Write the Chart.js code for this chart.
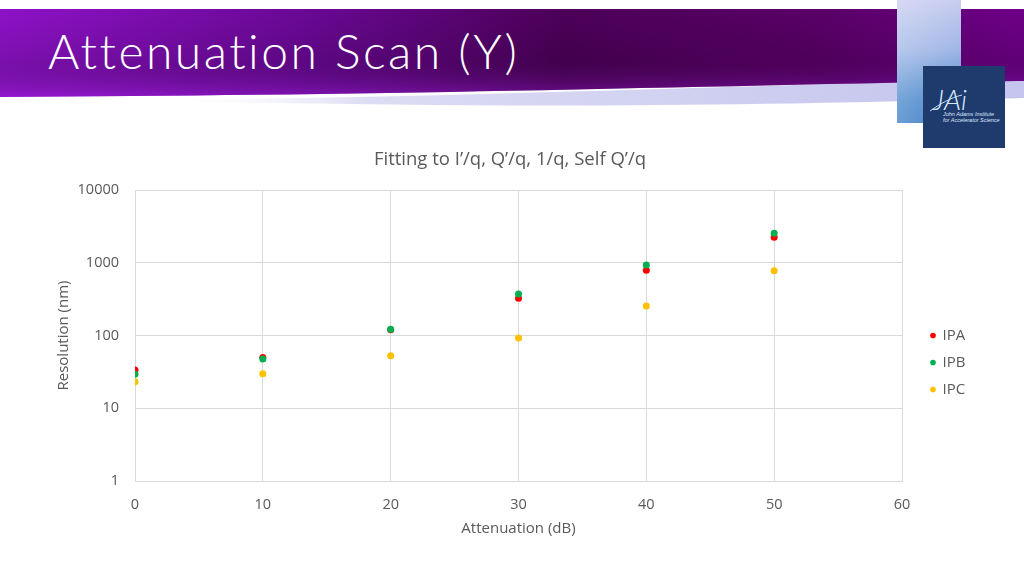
<!DOCTYPE html>
<html>
<head>
<meta charset="utf-8">
<script src="https://cdn.jsdelivr.net/npm/chart.js@4.4.0/dist/chart.umd.min.js"></script>
<style>
  html, body { margin: 0; padding: 0; background: #ffffff; }
  body { width: 1024px; height: 576px; position: relative; overflow: hidden; font-family: "Open Sans", sans-serif; }
  #deco { position: absolute; left: 0; top: 0; }
  #slideTitle { position: absolute; left: 48px; top: 21px; color: #ffffff; font-family: Lato, "Open Sans", sans-serif; font-weight: 300; font-size: 48px; letter-spacing: 2.5px; line-height: 60px; white-space: nowrap; }
  #logoText { position: absolute; left: 923px; top: 66px; width: 82px; height: 82px; color: #ffffff; }
  #logoJ { position: absolute; left: 10px; top: 19px; font-family: Lato, sans-serif; font-weight: 300; font-style: italic; font-size: 28px; line-height: 28px; color: #d6eaff; }
  #logoSmall { position: absolute; left: 20px; top: 45px; font-family: "Liberation Sans Narrow", "Liberation Sans", sans-serif; font-style: italic; font-size: 5.5px; line-height: 6px; color: #dfe8ff; white-space: nowrap; }
  #chartBox { position: absolute; left: 40px; top: 140px; width: 940px; height: 405px; }
</style>
</head>
<body>
<svg id="deco" width="1024" height="576" xmlns="http://www.w3.org/2000/svg">
  <defs>
    <linearGradient id="lav" x1="0" y1="0" x2="1" y2="0">
      <stop offset="0" stop-color="#ffffff" stop-opacity="0"/>
      <stop offset="0.25" stop-color="#dcdcf4"/>
      <stop offset="1" stop-color="#c4c4ee"/>
    </linearGradient>
    <linearGradient id="purpH" x1="0" y1="0" x2="1" y2="0">
      <stop offset="0" stop-color="#8e12c8"/>
      <stop offset="0.3" stop-color="#6a0896"/>
      <stop offset="0.55" stop-color="#4c0058"/>
      <stop offset="0.8" stop-color="#5a0068"/>
      <stop offset="1" stop-color="#6e0088"/>
    </linearGradient>
    <linearGradient id="purpV" x1="0" y1="0" x2="0" y2="1">
      <stop offset="0" stop-color="#000000" stop-opacity="0"/>
      <stop offset="0.55" stop-color="#000000" stop-opacity="0.12"/>
      <stop offset="1" stop-color="#9a20d8" stop-opacity="0.45"/>
    </linearGradient>
    <linearGradient id="blueRect" x1="0" y1="0" x2="0" y2="1">
      <stop offset="0" stop-color="#c8ccf0"/>
      <stop offset="0.4" stop-color="#a0b6e6"/>
      <stop offset="0.8" stop-color="#4a88cc"/>
      <stop offset="1" stop-color="#3a7cc4"/>
    </linearGradient>
    <linearGradient id="blueRectH" x1="0" y1="0" x2="1" y2="0">
      <stop offset="0" stop-color="#ffffff" stop-opacity="0.25"/>
      <stop offset="1" stop-color="#ffffff" stop-opacity="0"/>
    </linearGradient>
  </defs>
  <path d="M 150 100 C 450 98, 750 84, 1024 80 L 1024 98 C 800 104, 600 108, 350 104 C 250 103, 200 102, 150 100 Z" fill="url(#lav)"/>
  <path d="M 0 9 L 1024 9 L 1024 81 C 750 84, 450 95, 0 97 Z" fill="url(#purpH)"/>
  <path d="M 0 9 L 1024 9 L 1024 81 C 750 84, 450 95, 0 97 Z" fill="url(#purpV)"/>
  <rect x="897" y="0" width="64" height="123" fill="url(#blueRect)"/>
  <rect x="897" y="0" width="64" height="123" fill="url(#blueRectH)"/>
  <rect x="923" y="66" width="82" height="82" fill="#1f3a6c"/>
  <path d="M 930 111 C 940 104, 950 98, 962 95" stroke="#bfe0ff" stroke-width="1" fill="none"/>
</svg>
<div id="slideTitle">Attenuation Scan (Y)</div>
<div id="logoText">
  <div id="logoJ">JAi</div>
  <div id="logoSmall">John Adams Institute<br>for Accelerator Science</div>
</div>
<div id="chartBox"><canvas id="c"></canvas></div>
<script>
const chartTitle = "Fitting to I\u2019/q, Q\u2019/q, 1/q, Self Q\u2019/q";
const xTitle = "Attenuation (dB)";
const yTitle = "Resolution (nm)";
const attenuation = [0, 10, 20, 30, 40, 50];
const seriesNames = ["IPA", "IPB", "IPC"];
const ipa = [33.6, 50, 120, 324, 787, 2238];
const ipb = [29.3, 47.5, 121.7, 372, 931, 2541];
const ipc = [23.2, 29.8, 52.7, 92.4, 254, 778];
const yTicks = [1, 10, 100, 1000, 10000];
const xMin = 0, xMax = 60, xStep = 10;
const colors = ["#ff0000", "#00b050", "#ffc000"];

const allSeries = [ipa, ipb, ipc];
const datasets = allSeries.map((vals, i) => ({
  label: seriesNames[i],
  data: attenuation.map((x, j) => ({ x: x, y: vals[j] })),
  backgroundColor: colors[i],
  borderColor: colors[i],
  borderWidth: 0,
  pointRadius: 3.5,
  pointHoverRadius: 3.5,
  showLine: false,
  order: 3 - i
}));

const tickColor = "#595959";
const gridColor = "#d9d9d9";

// layout helpers: fixed legend column width, and legend offset inside its box
const legendWidth = 78;
const legendShift = { dx: 17, dy: 20 };
const legendLayout = {
  id: "legendLayout",
  beforeLayout(chart) {
    const lg = chart.legend;
    if (lg && !lg._fixedFit) {
      const orig = lg.fit.bind(lg);
      lg.fit = function () { orig(); this.width = legendWidth; };
      lg._fixedFit = true;
    }
  },
  afterLayout(chart) {
    const lg = chart.legend;
    if (!lg) return;
    lg.left += legendShift.dx; lg.right += legendShift.dx;
    lg.top += legendShift.dy; lg.bottom += legendShift.dy;
  }
};

new Chart(document.getElementById("c"), {
  type: "scatter",
  data: { datasets: datasets },
  plugins: [legendLayout],
  options: {
    responsive: true,
    maintainAspectRatio: false,
    animation: false,
    layout: { padding: 0 },
    plugins: {
      tooltip: { enabled: false },
      title: {
        display: true,
        text: chartTitle,
        color: tickColor,
        font: { family: "Open Sans", size: 18.5, weight: "normal" },
        padding: { top: 8.9, bottom: 18.9 }
      },
      legend: {
        position: "right",
        labels: {
          usePointStyle: true,
          pointStyle: "circle",
          boxWidth: 4,
          boxHeight: 4,
          color: tickColor,
          padding: 12,
          font: { family: "Open Sans", size: 15 },
          sort: (a, b) => a.datasetIndex - b.datasetIndex
        }
      }
    },
    scales: {
      x: {
        type: "linear",
        min: xMin,
        max: xMax,
        ticks: { stepSize: xStep, color: tickColor, padding: 15.5, font: { family: "Open Sans", size: 14.5 } },
        grid: { color: gridColor, drawTicks: false },
        border: { color: gridColor },
        title: { display: true, text: xTitle, color: tickColor, font: { family: "Open Sans", size: 15 }, padding: { top: 0, bottom: 7 } },
        afterFit: (s) => { s.height = 64; }
      },
      y: {
        type: "logarithmic",
        min: yTicks[0],
        max: yTicks[yTicks.length - 1],
        afterBuildTicks: (s) => { s.ticks = yTicks.map(v => ({ value: v, major: true })); },
        ticks: { color: tickColor, padding: 16, font: { family: "Open Sans", size: 14.5 }, callback: (v) => String(v) },
        grid: { color: gridColor, drawTicks: false },
        border: { color: gridColor },
        title: { display: true, text: yTitle, color: tickColor, font: { family: "Open Sans", size: 15 }, padding: { top: 15, bottom: 0 } },
        afterFit: (s) => { s.width = 95; }
      }
    }
  }
});
</script>
</body>
</html>
